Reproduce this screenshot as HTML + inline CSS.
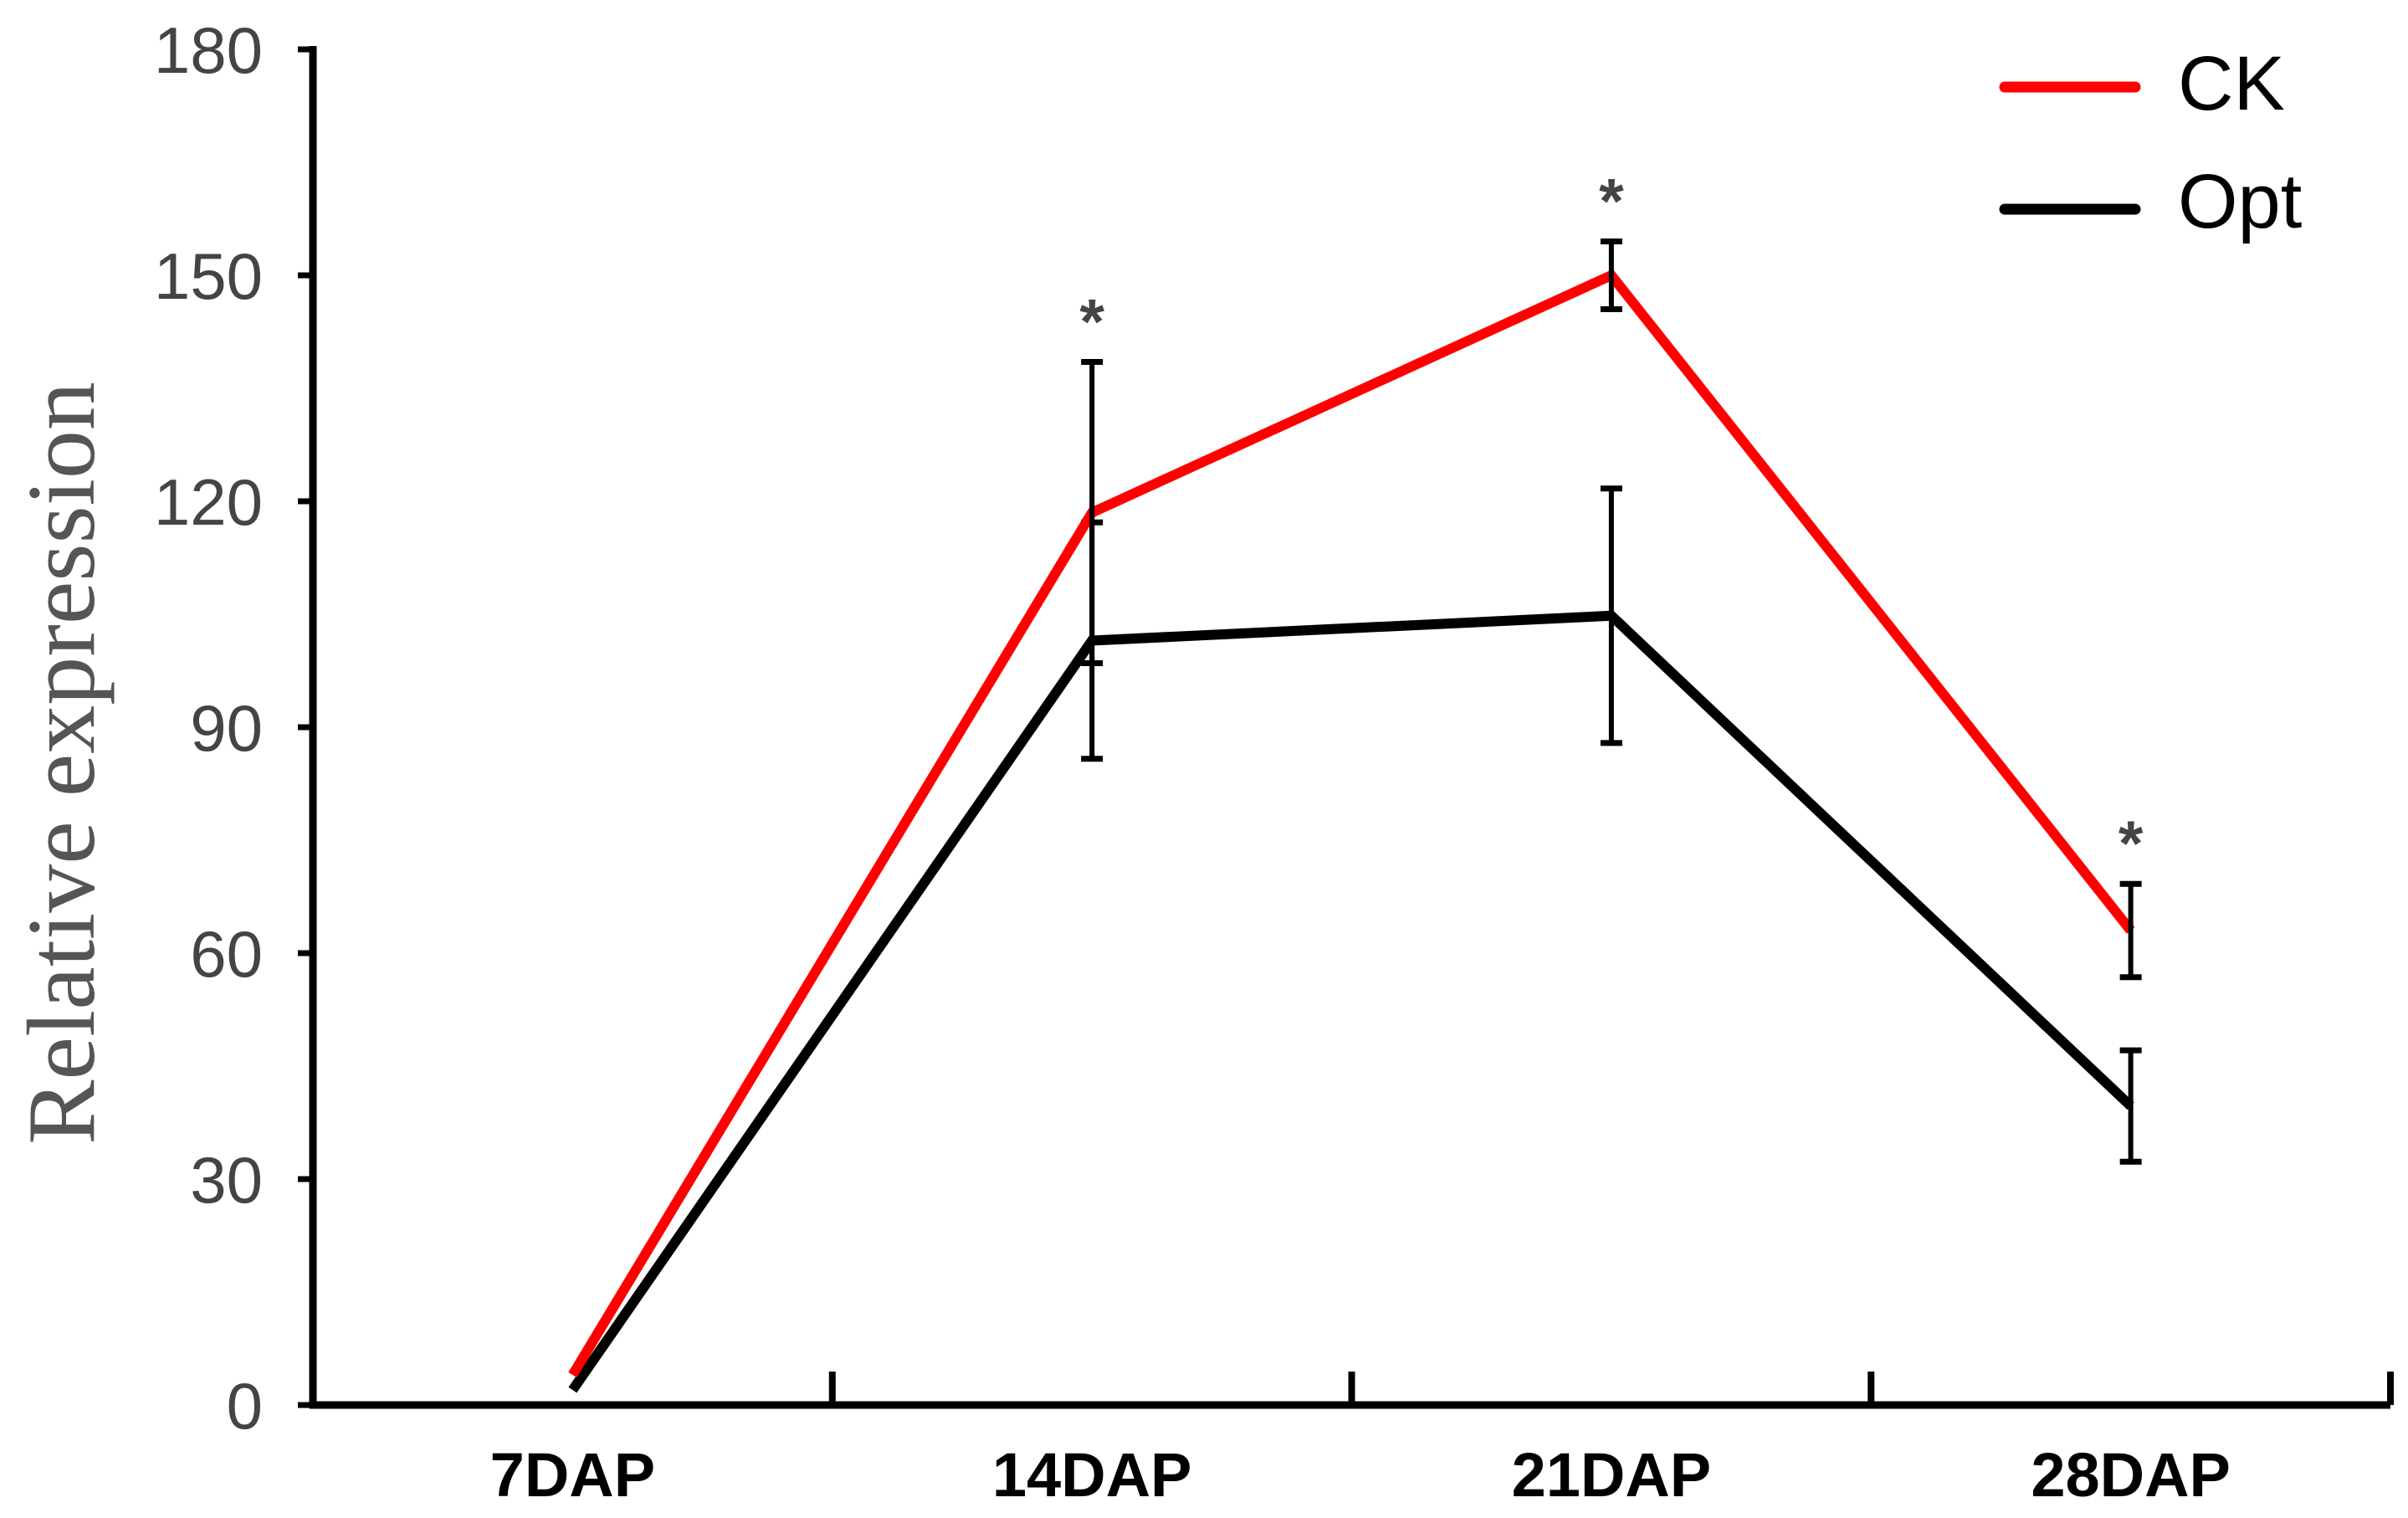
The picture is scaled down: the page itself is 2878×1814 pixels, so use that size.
<!DOCTYPE html>
<html><head><meta charset="utf-8"><style>body{margin:0;background:#fff}svg{display:block}</style></head>
<body>
<svg id="chart" width="2878" height="1814" viewBox="0 0 2878 1814" xmlns="http://www.w3.org/2000/svg">
<g id="axes"></g>
<g id="series"></g>
<text x="0" y="0" transform="translate(112,912) rotate(-90)" text-anchor="middle" font-family="Liberation Serif, serif" font-size="116" fill="#555">Relative expression</text>
<g>
<line x1="2396" y1="104" x2="2552" y2="104" stroke="#f00" stroke-width="13" stroke-linecap="round"/>
<text x="2603" y="131" font-family="Liberation Sans, sans-serif" font-size="92" fill="#000">CK</text>
<line x1="2396" y1="250" x2="2552" y2="250" stroke="#000" stroke-width="13" stroke-linecap="round"/>
<text x="2603" y="272" font-family="Liberation Sans, sans-serif" font-size="92" fill="#000">Opt</text>
</g>
</svg>
<script>
const categories = ["7DAP","14DAP","21DAP","28DAP"];
const ckValues = [4, 118.5, 150, 63];
const ckErrors = [0, 20, 4.5, 6.2];
const optValues = [2, 101.5, 104.8, 39.7];
const optErrors = [0, 15.7, 16.9, 7.4];
const yTicks = [0,30,60,90,120,150,180];
const significant = [false, true, true, true];

const NS="http://www.w3.org/2000/svg";
const X0=374, X1=2857, Y0=1679, Y1=59, YMAX=180;
const bandW=(X1-X0)/categories.length;
const xPos=i=>X0+bandW*(i+0.5);
const yPos=v=>Y0-(v/YMAX)*(Y0-Y1);
function mk(tag,attrs,parent){const e=document.createElementNS(NS,tag);for(const k in attrs)e.setAttribute(k,attrs[k]);parent.appendChild(e);return e;}
const axes=document.getElementById('axes'), series=document.getElementById('series');

let e=mk('line',{x1:X0,y1:Y1-4,x2:X0,y2:Y0+4,stroke:'#000','stroke-width':9},axes);


e=mk('line',{x1:X0-4,y1:Y0,x2:X1,y2:Y0,stroke:'#000','stroke-width':9},axes);


yTicks.forEach(t=>{
  const y=yPos(t);
  let tk=mk('line',{x1:X0-18,y1:y,x2:X0,y2:y,stroke:'#000','stroke-width':7},axes);
  
  
  let lb=mk('text',{x:314,y:y+28,'text-anchor':'end','font-family':'Liberation Sans, sans-serif','font-size':78,fill:'#444'},axes);
  lb.textContent=t;
  
  
});
categories.forEach((c,i)=>{
  const xb=X0+bandW*(i+1);
  let tk=mk('line',{x1:xb,y1:Y0-40,x2:xb,y2:Y0,stroke:'#000','stroke-width':8},axes);
  
  
  let lb=mk('text',{x:xPos(i),y:1788,'text-anchor':'middle','font-family':'Liberation Sans, sans-serif','font-size':74,'font-weight':'bold',fill:'#000'},axes);
  lb.textContent=c;
  
  
});
function drawSeries(vals,errs,color,name){
  const pts=vals.map((v,i)=>xPos(i)+','+yPos(v)).join(' ');
  let pl=mk('polyline',{points:pts,fill:'none',stroke:color,'stroke-width':12,'stroke-linejoin':'miter'},series);
  
  
  vals.forEach((v,i)=>{
    if(!errs[i])return;
    const x=xPos(i),yt=yPos(v+errs[i]),yb=yPos(v-errs[i]);
    const g=mk('g',{},series);
    
    
    mk('line',{x1:x,y1:yt,x2:x,y2:yb,stroke:'#000','stroke-width':6},g);
    mk('line',{x1:x-13,y1:yt,x2:x+13,y2:yt,stroke:'#000','stroke-width':7},g);
    mk('line',{x1:x-13,y1:yb,x2:x+13,y2:yb,stroke:'#000','stroke-width':7},g);
  });
}
drawSeries(optValues,optErrors,'#000','opt');
drawSeries(ckValues,ckErrors,'#f00','ck');
significant.forEach((s,i)=>{
  if(!s)return;
  const top=Math.max(ckValues[i]+ckErrors[i],optValues[i]+optErrors[i]);
  let t=mk('text',{x:xPos(i),y:yPos(top)-22,'text-anchor':'middle','font-family':'Liberation Sans, sans-serif','font-size':76,'font-weight':'bold',fill:'#444'},series);
  t.textContent='*';
  
  
});
</script>
</body></html>
